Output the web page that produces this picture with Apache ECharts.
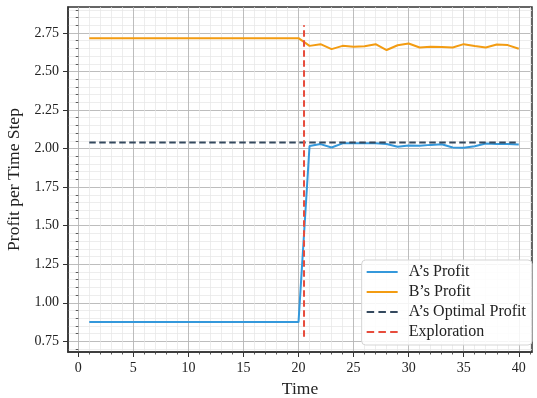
<!DOCTYPE html>
<html><head><meta charset="utf-8">
<script src="https://cdn.jsdelivr.net/npm/echarts@6/dist/echarts.min.js"></script>
<style>html,body{margin:0;padding:0;background:#fff}#c{width:537px;height:398px}</style>
</head><body><div id="c"></div>
<script>
const time = [1,2,3,4,5,6,7,8,9,10,11,12,13,14,15,16,17,18,19,20,21,22,23,24,25,26,27,28,29,30,31,32,33,34,35,36,37,38,39,40];
const aProfit = [0.875,0.875,0.875,0.875,0.875,0.875,0.875,0.875,0.875,0.875,0.875,0.875,0.875,0.875,0.875,0.875,0.875,0.875,0.875,0.875,
  2.017,2.029,2.007,2.034,2.035,2.035,2.034,2.030,2.012,2.020,2.019,2.024,2.028,2.007,2.006,2.015,2.033,2.029,2.029,2.026];
const bProfit = [2.716,2.716,2.716,2.716,2.716,2.716,2.716,2.716,2.716,2.716,2.716,2.716,2.716,2.716,2.716,2.716,2.716,2.716,2.716,2.716,
  2.666,2.677,2.645,2.666,2.660,2.664,2.677,2.639,2.670,2.681,2.655,2.660,2.659,2.655,2.677,2.665,2.655,2.675,2.671,2.647];
const aOptimal = 2.04;
const explorationTime = 20.5;
const explorationRange = [0.78, 2.80];
const seriesNames = ['A\u2019s Profit', 'B\u2019s Profit', 'A\u2019s Optimal Profit', 'Exploration'];
const xTickLabels = [0,5,10,15,20,25,30,35,40];
const yTickLabels = [0.75,1.00,1.25,1.50,1.75,2.00,2.25,2.50,2.75];

const xMin = -0.93, xMax = 41.2, yMin = 0.681, yMax = 2.918;
const xMinor = [];
for (let v = 0; v <= 41; v++) if (v % 5 !== 0) xMinor.push(v);
const yMinor = [];
for (let k = 14; k <= 58; k++) { if (k % 5 !== 0) yMinor.push(Math.round(k * 5) / 100); }

const FONT = '"Liberation Serif", "DejaVu Serif", serif';
const AX = '#333';
const MAJOR = '#b5b5b5', MINOR = '#e5e5e5';
const SOLID_ICON = 'rect';
const DASH_ICON = 'path://M0,0h7.5v2h-7.5zM11.75,0h7.5v2h-7.5zM23.5,0h7.5v2h-7.5z';

const chart = echarts.init(document.getElementById('c'), null, {renderer: 'canvas'});
chart.setOption({
  animation: false,
  backgroundColor: '#fff',
  grid: {left: 68, right: 5, top: 7, bottom: 46, show: true, borderColor: AX, borderWidth: 1.5,
         backgroundColor: 'transparent', containLabel: false, outerBoundsMode: 'none'},
  xAxis: [
    {type: 'value', position: 'bottom', min: xMin, max: xMax,
     name: 'Time', nameLocation: 'middle', nameGap: 28,
     nameTextStyle: {fontFamily: FONT, fontSize: 17.5, color: '#222'},
     axisLine: {show: true, onZero: false, lineStyle: {color: AX, width: 1.5}},
     axisTick: {show: true, length: 5, customValues: xTickLabels, lineStyle: {color: AX, width: 1}},
     axisLabel: {customValues: xTickLabels, fontFamily: FONT, fontSize: 14, color: '#222', margin: 9},
     splitLine: {show: true, lineStyle: {color: MAJOR, width: 0.9}}},
    {type: 'value', position: 'bottom', min: xMin, max: xMax,
     axisLine: {show: false},
     axisTick: {show: true, length: 2.5, customValues: xMinor, lineStyle: {color: AX, width: 0.8}},
     axisLabel: {show: false, customValues: xMinor},
     splitLine: {show: true, lineStyle: {color: MINOR, width: 0.7}}}
  ],
  yAxis: [
    {type: 'value', position: 'left', min: yMin, max: yMax,
     name: 'Profit per Time Step', nameLocation: 'middle', nameGap: 42,
     nameTextStyle: {fontFamily: FONT, fontSize: 17.5, color: '#222'},
     axisLine: {show: true, onZero: false, lineStyle: {color: AX, width: 1.5}},
     axisTick: {show: true, length: 5, customValues: yTickLabels, lineStyle: {color: AX, width: 1}},
     axisLabel: {customValues: yTickLabels, fontFamily: FONT, fontSize: 14, color: '#222', margin: 9,
       formatter: v => Number(v).toFixed(2)},
     splitLine: {show: true, lineStyle: {color: MAJOR, width: 0.9}}},
    {type: 'value', position: 'left', min: yMin, max: yMax,
     axisLine: {show: false},
     axisTick: {show: true, length: 2.5, customValues: yMinor, lineStyle: {color: AX, width: 0.8}},
     axisLabel: {show: false, customValues: yMinor},
     splitLine: {show: true, lineStyle: {color: MINOR, width: 0.7}}}
  ],
  legend: {
    orient: 'vertical', right: 5, bottom: 53,
    padding: [4, 6, 5, 5], itemGap: 4, itemWidth: 31, itemHeight: 2,
    backgroundColor: 'rgba(255,255,255,0.85)', borderColor: '#d5d5d5', borderWidth: 1, borderRadius: 4,
    textStyle: {fontFamily: FONT, fontSize: 16, color: '#222', padding: [0, 0, 0, 6], lineHeight: 16},
    data: [
      {name: seriesNames[0], icon: SOLID_ICON},
      {name: seriesNames[1], icon: SOLID_ICON},
      {name: seriesNames[2], icon: DASH_ICON},
      {name: seriesNames[3], icon: DASH_ICON}
    ]
  },
  series: [
    {name: seriesNames[0], type: 'line', symbol: 'none', xAxisIndex: 0, yAxisIndex: 0,
     lineStyle: {color: '#3498db', width: 2}, itemStyle: {color: '#3498db'},
     data: time.map((t, i) => [t, aProfit[i]]), z: 3},
    {name: seriesNames[1], type: 'line', symbol: 'none', xAxisIndex: 0, yAxisIndex: 0,
     lineStyle: {color: '#f39c12', width: 2}, itemStyle: {color: '#f39c12'},
     data: time.map((t, i) => [t, bProfit[i]]), z: 4},
    {name: seriesNames[2], type: 'line', symbol: 'none', xAxisIndex: 0, yAxisIndex: 0,
     lineStyle: {color: '#34495e', width: 2, type: [6.5, 3.5]}, itemStyle: {color: '#34495e'},
     data: [[time[0], aOptimal], [time[time.length - 1], aOptimal]], z: 5},
    {name: seriesNames[3], type: 'line', symbol: 'none', xAxisIndex: 0, yAxisIndex: 0,
     lineStyle: {color: '#e74c3c', width: 2, type: [6.5, 3.5]}, itemStyle: {color: '#e74c3c'},
     data: [[explorationTime, explorationRange[0]], [explorationTime, explorationRange[1]]], z: 6}
  ]
});
</script></body></html>
